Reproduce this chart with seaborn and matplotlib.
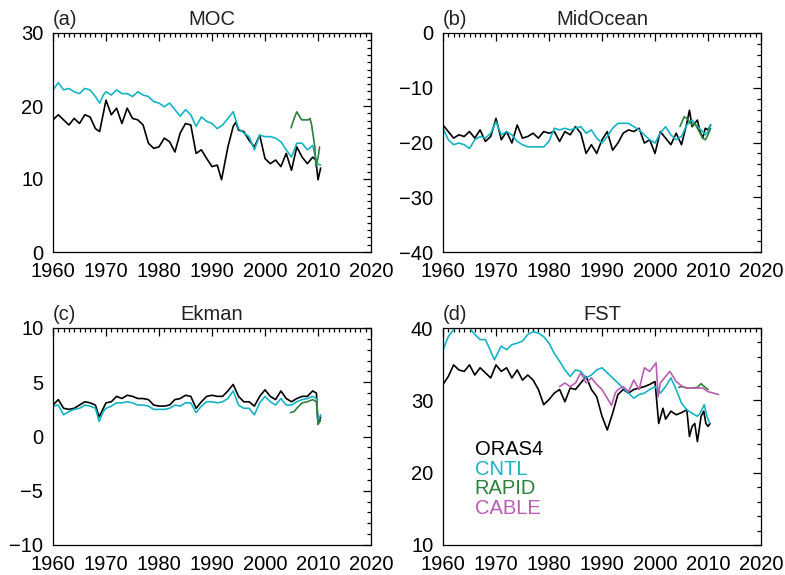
import matplotlib
matplotlib.use("Agg")
import matplotlib.pyplot as plt
from matplotlib.ticker import MultipleLocator
import seaborn as sns

# ---------------- data ----------------
# (a) MOC
moc_oras4_years = [1960, 1961, 1962, 1963, 1964, 1965, 1966, 1967, 1968, 1968.8, 1969.5,
                   1970, 1971, 1972, 1973, 1974, 1975, 1976, 1977, 1978, 1979,
                   1980, 1981, 1982, 1983, 1984, 1985, 1986, 1987, 1988, 1989,
                   1990, 1991, 1991.8, 1993, 1994, 1994.5,
                   1995, 1996, 1997, 1998, 1999, 2000, 2001, 2002, 2003, 2004,
                   2005, 2006, 2007, 2008, 2009, 2009.6, 2010, 2010.5]
moc_oras4 = [18.1, 18.8, 18.1, 17.4, 18.3, 17.6, 18.8, 18.5, 16.9, 16.5, 19.0,
             20.8, 18.8, 19.7, 17.6, 19.7, 18.3, 18.1, 17.4, 14.9, 14.2,
             14.4, 15.6, 15.1, 13.7, 16.3, 17.6, 17.4, 13.5, 14.0, 12.8,
             11.7, 11.9, 9.9, 14.4, 17.2, 17.8,
             16.7, 16.5, 15.3, 14.4, 16.0, 12.8, 12.1, 12.6, 11.7, 13.5,
             11.2, 14.4, 13.0, 12.1, 13.0, 12.6, 9.9, 11.5]
moc_cntl_years = [1960, 1961, 1962, 1963, 1964, 1965, 1966, 1967, 1968, 1968.8, 1969.5,
                  1970, 1971, 1972, 1973, 1974, 1975, 1976, 1977, 1978, 1979,
                  1980, 1981, 1982, 1983, 1984, 1985, 1986, 1987, 1988, 1989,
                  1990, 1991, 1992, 1993, 1994, 1995, 1996, 1997, 1998, 1999,
                  2000, 2001, 2002, 2003, 2004, 2005, 2006, 2007, 2008, 2009,
                  2009.8, 2010.5]
moc_cntl = [22.2, 23.2, 22.2, 22.4, 21.95, 21.7, 22.4, 22.2, 21.3, 20.4, 21.5,
            21.95, 21.5, 22.2, 21.7, 21.7, 21.3, 21.95, 21.5, 21.3, 20.6,
            20.4, 19.9, 20.4, 19.5, 18.6, 19.5, 18.8, 17.2, 18.5, 17.9,
            17.6, 16.9, 17.4, 18.3, 19.2, 16.9, 16.3, 15.8, 14.0, 16.0,
            15.8, 15.8, 15.6, 15.1, 14.0, 13.0, 14.9, 14.9, 14.0, 14.6,
            12.1, 11.9]
moc_rapid_years = [2004.9, 2005.5, 2006.0, 2006.9, 2008.2, 2008.5, 2008.8, 2009.4, 2009.6, 2010.0, 2010.3]
moc_rapid = [17.0, 18.3, 19.2, 18.1, 18.1, 18.3, 17.4, 14.4, 11.7, 12.9, 14.4]

# (b) MidOcean
mid_oras4_years = [1960, 1961, 1962, 1963, 1964, 1965, 1966, 1967, 1968, 1969,
                   1970, 1971, 1972, 1973, 1974, 1975, 1976, 1977, 1978, 1979,
                   1980, 1981, 1982, 1983, 1984, 1985, 1986, 1987, 1988, 1989,
                   1990, 1991, 1992, 1993, 1994, 1995, 1996, 1997, 1998, 1999,
                   2000, 2001, 2002, 2003, 2004, 2005, 2006, 2006.5, 2007, 2008,
                   2008.5, 2009, 2009.5, 2010, 2010.5]
mid_oras4 = [-16.8, -18.0, -19.2, -18.6, -18.9, -18.0, -19.2, -17.7, -19.8, -18.9,
             -15.6, -19.5, -18.0, -20.1, -16.8, -19.2, -18.9, -18.3, -19.2, -18.0,
             -18.3, -18.0, -19.8, -18.0, -18.6, -17.1, -18.3, -22.0, -20.4, -22.0,
             -19.5, -18.0, -21.4, -20.1, -18.3, -17.7, -18.0, -17.4, -20.1, -19.5,
             -22.0, -18.0, -19.2, -20.4, -18.3, -20.4, -16.5, -14.1, -17.1, -15.9,
             -18.0, -19.2, -17.4, -17.7, -16.8]
mid_cntl_years = [1960, 1961, 1962, 1963, 1964, 1965, 1966, 1967, 1968, 1969,
                  1970, 1971, 1972, 1973, 1974, 1975, 1976, 1977, 1978, 1979,
                  1980, 1981, 1982, 1983, 1984, 1985, 1986, 1987, 1988, 1989,
                  1990, 1991, 1992, 1993, 1994, 1995, 1996, 1997, 1998, 1999,
                  2000, 2001, 2002, 2003, 2004, 2005, 2006, 2007, 2008, 2009,
                  2009.5, 2010, 2010.5]
mid_cntl = [-17.4, -19.5, -20.4, -20.1, -20.4, -21.1, -19.5, -18.9, -19.2, -18.3,
            -16.2, -18.6, -18.0, -18.6, -19.8, -20.4, -20.8, -20.8, -20.8, -20.8,
            -19.8, -17.4, -17.7, -17.4, -17.7, -17.4, -17.1, -18.3, -17.7, -19.2,
            -20.1, -18.9, -17.4, -16.5, -16.5, -16.5, -17.1, -17.7, -18.6, -19.5,
            -20.1, -18.3, -17.1, -18.6, -19.5, -18.9, -16.8, -15.9, -17.1, -18.0,
            -18.6, -18.0, -16.8]
mid_rapid_years = [2004.7, 2005.5, 2006.0, 2007.0, 2007.5, 2008.0, 2009.0, 2009.5, 2010.0, 2010.5]
mid_rapid = [-17.1, -15.3, -15.6, -16.8, -16.5, -17.4, -19.2, -19.5, -18.6, -17.4]

# (c) Ekman
ek_years = [1960, 1961, 1962, 1963, 1964, 1965, 1966, 1967, 1968, 1968.7, 1969.5,
            1970, 1971, 1972, 1973, 1974, 1975, 1976, 1977, 1978, 1979,
            1980, 1981, 1982, 1983, 1984, 1985, 1986, 1987, 1988, 1989,
            1990, 1991, 1992, 1993, 1994, 1995, 1996, 1997, 1998, 1999,
            2000, 2001, 2002, 2003, 2004, 2005, 2006, 2007, 2008, 2009,
            2009.7, 2010, 2010.5]
ek_oras4 = [2.9, 3.4, 2.6, 2.5, 2.6, 2.9, 3.2, 3.1, 2.9, 1.8, 2.6,
            3.1, 3.2, 3.7, 3.5, 3.8, 3.7, 3.5, 3.5, 3.4, 2.9,
            2.8, 2.8, 2.9, 3.4, 3.5, 3.8, 3.7, 2.6, 3.2, 3.7,
            3.8, 3.7, 3.7, 4.2, 4.8, 3.7, 3.2, 3.2, 2.8, 3.7,
            4.3, 3.7, 3.4, 4.2, 3.5, 3.2, 3.5, 3.7, 3.7, 4.2,
            4.0, 1.2, 1.8]
ek_cntl = [2.8, 2.9, 2.0, 2.3, 2.5, 2.6, 2.9, 2.8, 2.6, 1.4, 2.3,
           2.6, 2.8, 3.1, 3.1, 3.2, 3.1, 2.9, 2.9, 2.8, 2.5,
           2.5, 2.5, 2.6, 2.9, 2.8, 3.1, 3.1, 2.2, 2.8, 3.2,
           3.2, 3.1, 3.2, 3.5, 4.2, 2.9, 2.6, 2.6, 2.0, 3.1,
           3.7, 3.2, 2.9, 3.5, 2.9, 2.9, 3.2, 3.4, 3.5, 3.7,
           3.5, 1.4, 2.0]
ek_rapid_years = [2004.8, 2005.5, 2006.0, 2007.0, 2008.0, 2009.0, 2009.7, 2010.0, 2010.5]
ek_rapid = [2.2, 2.3, 2.6, 3.1, 3.2, 3.4, 3.2, 1.1, 1.5]

# (d) FST
fst_oras4_years = [1960, 1961, 1962, 1963, 1964, 1965, 1966, 1967, 1968, 1969,
                   1970, 1971, 1972, 1973, 1974, 1975, 1976, 1977, 1978, 1979,
                   1980, 1981, 1982, 1983, 1984, 1985, 1986, 1987, 1988, 1989,
                   1990, 1991, 1992, 1993, 1994, 1995, 1996, 1997, 1998, 1999,
                   2000, 2000.7, 2001.5, 2002, 2003, 2004, 2005, 2006, 2006.5, 2007,
                   2007.5, 2008, 2008.7, 2009.2, 2009.6, 2010, 2010.4]
fst_oras4 = [32.2, 33.3, 34.9, 34.2, 34.0, 34.9, 33.5, 34.5, 33.8, 33.1,
             34.9, 34.0, 34.5, 33.1, 34.2, 32.8, 33.5, 32.8, 31.5, 29.4,
             30.1, 31.0, 31.5, 29.8, 31.7, 31.5, 32.4, 33.3, 31.5, 30.5,
             27.8, 25.9, 28.2, 30.8, 31.5, 31.0, 31.5, 31.7, 31.9, 32.2,
             32.6, 26.8, 28.9, 27.4, 28.5, 28.0, 28.3, 28.7, 25.0, 26.4,
             26.8, 24.3, 27.8, 28.5, 26.8, 26.4, 26.8]
fst_cntl_years = [1960, 1961, 1962, 1963, 1964, 1965, 1966, 1967, 1968, 1969,
                  1969.7, 1970.5, 1971, 1972, 1973, 1974, 1975, 1976, 1977, 1978, 1979,
                  1980, 1981, 1982, 1983, 1984, 1985, 1986, 1987, 1988, 1989,
                  1990, 1991, 1992, 1993, 1994, 1995, 1996, 1997, 1998, 1999,
                  2000, 2001, 2002, 2003, 2004, 2005, 2006, 2007, 2008,
                  2008.5, 2009.3, 2009.8, 2010.3]
fst_cntl = [37.0, 38.8, 39.8, 40.2, 40.0, 40.0, 39.1, 38.4, 38.4, 36.8,
            35.6, 36.8, 37.5, 37.0, 37.7, 37.9, 38.2, 39.1, 39.5, 39.3, 38.8,
            37.9, 36.5, 35.4, 34.2, 33.3, 34.2, 34.0, 33.1, 33.5, 34.2,
            34.5, 33.8, 33.1, 32.4, 31.7, 31.0, 30.3, 30.8, 31.0, 31.5,
            31.9, 31.0, 31.9, 33.1, 31.5, 29.6, 28.7, 28.2, 27.8,
            28.2, 29.4, 27.8, 26.8]
fst_rapid_years = [2004.5, 2005, 2006, 2007, 2008, 2008.7, 2009.3, 2010]
fst_rapid = [31.8, 31.9, 31.7, 31.7, 31.8, 32.3, 31.9, 31.5]
fst_cable_years = [1982, 1983, 1984, 1985, 1986, 1987, 1988, 1989, 1990, 1991.8,
                   1992.5, 1993, 1994, 1995, 1996, 1997, 1998, 1999,
                   1999.5, 2000.2, 2000.6, 2001, 2002, 2002.8, 2004, 2005,
                   2006, 2007, 2008, 2009, 2010, 2011, 2012]
fst_cable = [31.9, 32.4, 31.9, 32.4, 33.8, 32.4, 33.1, 32.2, 31.5, 29.3,
             31.0, 31.5, 31.9, 31.2, 32.8, 31.5, 34.5, 34.0,
             34.5, 35.2, 30.5, 32.4, 33.3, 34.0, 32.6, 32.0,
             31.7, 31.7, 31.7, 31.7, 31.2, 31.0, 30.8]

titles = ["MOC", "MidOcean", "Ekman", "FST"]
panel_labels = ["(a)", "(b)", "(c)", "(d)"]
ylims = [(0, 30), (-40, 0), (-10, 10), (10, 40)]
legend_names = ["ORAS4", "CNTL", "RAPID", "CABLE"]

# ---------------- style ----------------
sns.set_theme(style="white")
plt.rcParams["font.family"] = ["Liberation Sans", "DejaVu Sans"]

C_ORAS4 = "#000000"
C_CNTL = "#14B4C4"
C_RAPID = "#2E803A"
C_CABLE = "#BA5DB4"
colors = [C_ORAS4, C_CNTL, C_RAPID, C_CABLE]

fig = plt.figure(figsize=(7.85, 5.75), dpi=100)
W, H = 785, 575
positions = [(53, 33), (443, 33), (53, 328), (443, 328)]
aw = 318

series = [
    [(moc_oras4_years, moc_oras4, C_ORAS4), (moc_cntl_years, moc_cntl, C_CNTL), (moc_rapid_years, moc_rapid, C_RAPID)],
    [(mid_oras4_years, mid_oras4, C_ORAS4), (mid_cntl_years, mid_cntl, C_CNTL), (mid_rapid_years, mid_rapid, C_RAPID)],
    [(ek_years, ek_oras4, C_ORAS4), (ek_years, ek_cntl, C_CNTL), (ek_rapid_years, ek_rapid, C_RAPID)],
    [(fst_oras4_years, fst_oras4, C_ORAS4), (fst_cntl_years, fst_cntl, C_CNTL),
     (fst_rapid_years, fst_rapid, C_RAPID), (fst_cable_years, fst_cable, C_CABLE)],
]
yminor = [1, 2, 1, 2]

for i in range(4):
    px, py = positions[i]
    h = 219 if i < 2 else 217
    ax = fig.add_axes([px / W, 1 - (py + h) / H, aw / W, h / H])
    for xs, ys, c in series[i]:
        sns.lineplot(x=xs, y=ys, ax=ax, color=c, linewidth=1.2, estimator=None, sort=False)
    ax.set_xlim(1960, 2020)
    ax.set_ylim(*ylims[i])
    ax.xaxis.set_major_locator(MultipleLocator(10))
    ax.xaxis.set_minor_locator(MultipleLocator(1))
    ax.yaxis.set_major_locator(MultipleLocator(10 if i != 2 else 5))
    ax.yaxis.set_minor_locator(MultipleLocator(yminor[i]))
    ax.tick_params(which="both", direction="in", top=True, right=True,
                   labelsize=14.5, colors="black", width=0.9, pad=7)
    ax.tick_params(which="major", length=6)
    ax.tick_params(which="minor", length=3)
    ax.set_yticklabels([("\u2212" + str(abs(int(t)))) if t < 0 else str(int(t)) for t in ax.get_yticks()])
    for s in ax.spines.values():
        s.set_color("black")
        s.set_linewidth(0.9)
    ax.set_title(titles[i], fontsize=14.5, pad=6, color="#222222")
    ax.set_title(panel_labels[i], loc="left", fontsize=14.5, pad=6, color="#222222")
    ax.set_xlabel("")
    ax.set_ylabel("")

    if i == 3:
        for k, (name, c) in enumerate(zip(legend_names, colors)):
            ax.text(0.10, 0.415 - k * 0.091, name, color=c, fontsize=14.5,
                    transform=ax.transAxes, ha="left", va="baseline")

fig.savefig("out.png", dpi=100)
